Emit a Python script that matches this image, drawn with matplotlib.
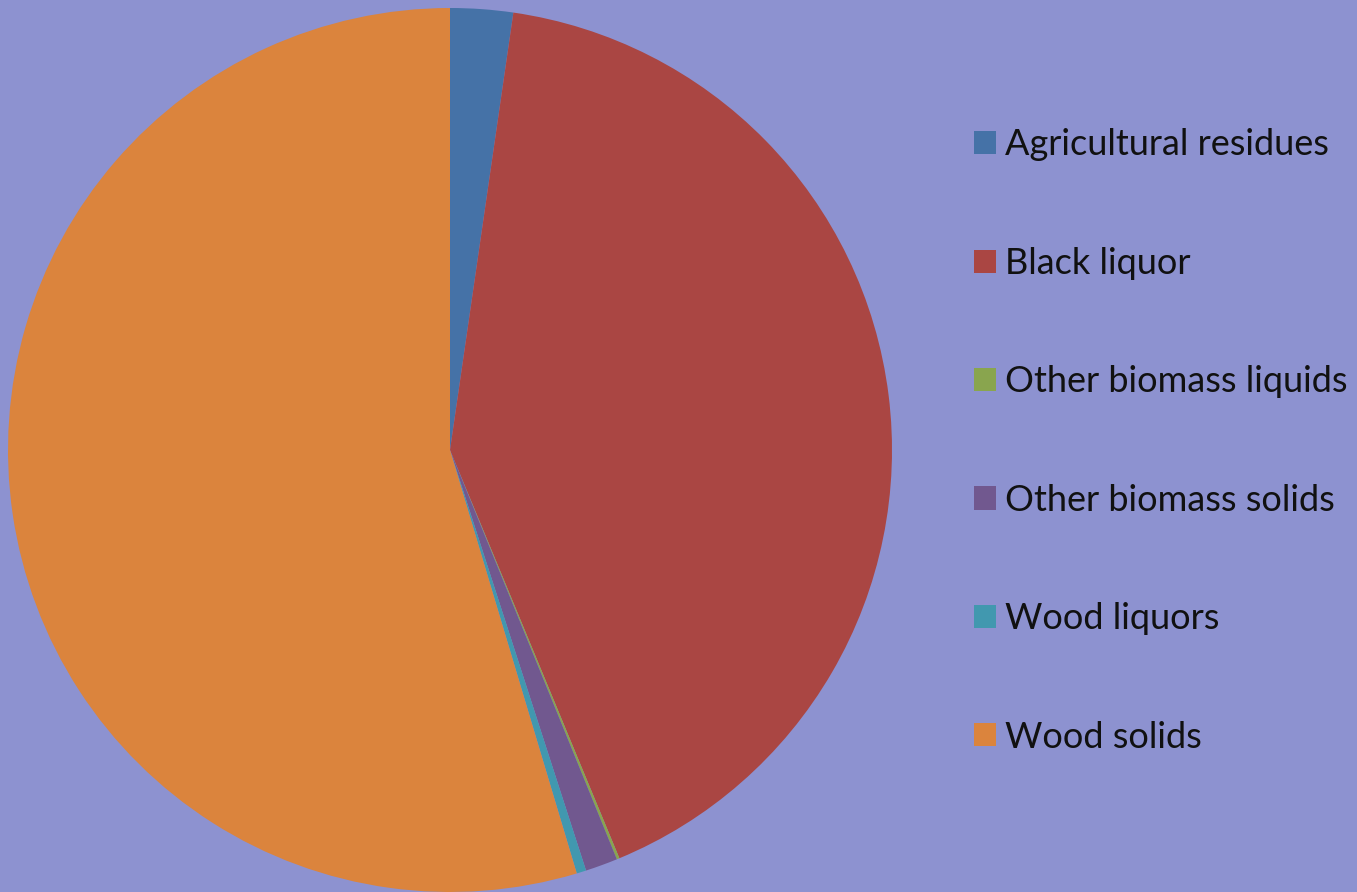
import matplotlib
matplotlib.use("Agg")
import matplotlib.pyplot as plt
from matplotlib.patches import Patch

categories = ["Agricultural residues", "Black liquor", "Other biomass liquids",
              "Other biomass solids", "Wood liquors", "Wood solids"]
values = [2.29, 41.45, 0.10, 1.18, 0.35, 54.63]
colors = ["#4572A7", "#AA4643", "#89A54E", "#71588F", "#4198AF", "#DB843D"]
bg = "#8D92D0"

W, H = 1357, 892
fig = plt.figure(figsize=(W / 100, H / 100), dpi=100, facecolor=bg)
cx, cy, r = 450, 442, 442
ax = fig.add_axes([(cx - r) / W, (cy - r) / H, 2 * r / W, 2 * r / H])
ax.set_facecolor(bg)
ax.pie(values, colors=colors, startangle=90, counterclock=False, radius=1,
       wedgeprops=dict(linewidth=0, antialiased=True))
ax.set_xlim(-1, 1)
ax.set_ylim(-1, 1)
ax.set_aspect("equal")
ax.axis("off")

fs = 26
fs_px = fs * 100 / 72
handles = [Patch(facecolor=c, edgecolor="none") for c in colors]
leg = fig.legend(handles, categories, loc="center left",
                 bbox_to_anchor=(974 / W, 1 - 441 / H), frameon=False,
                 prop=dict(family="Lato", size=fs),
                 handlelength=22 / fs_px, handleheight=22 / fs_px,
                 handletextpad=9 / fs_px,
                 labelspacing=(119.4 - fs_px * 0.94) / fs_px, borderaxespad=0,
                 borderpad=0)
for t in leg.get_texts():
    t.set_color("#111111")

fig.savefig("out.png", dpi=100, facecolor=bg)
